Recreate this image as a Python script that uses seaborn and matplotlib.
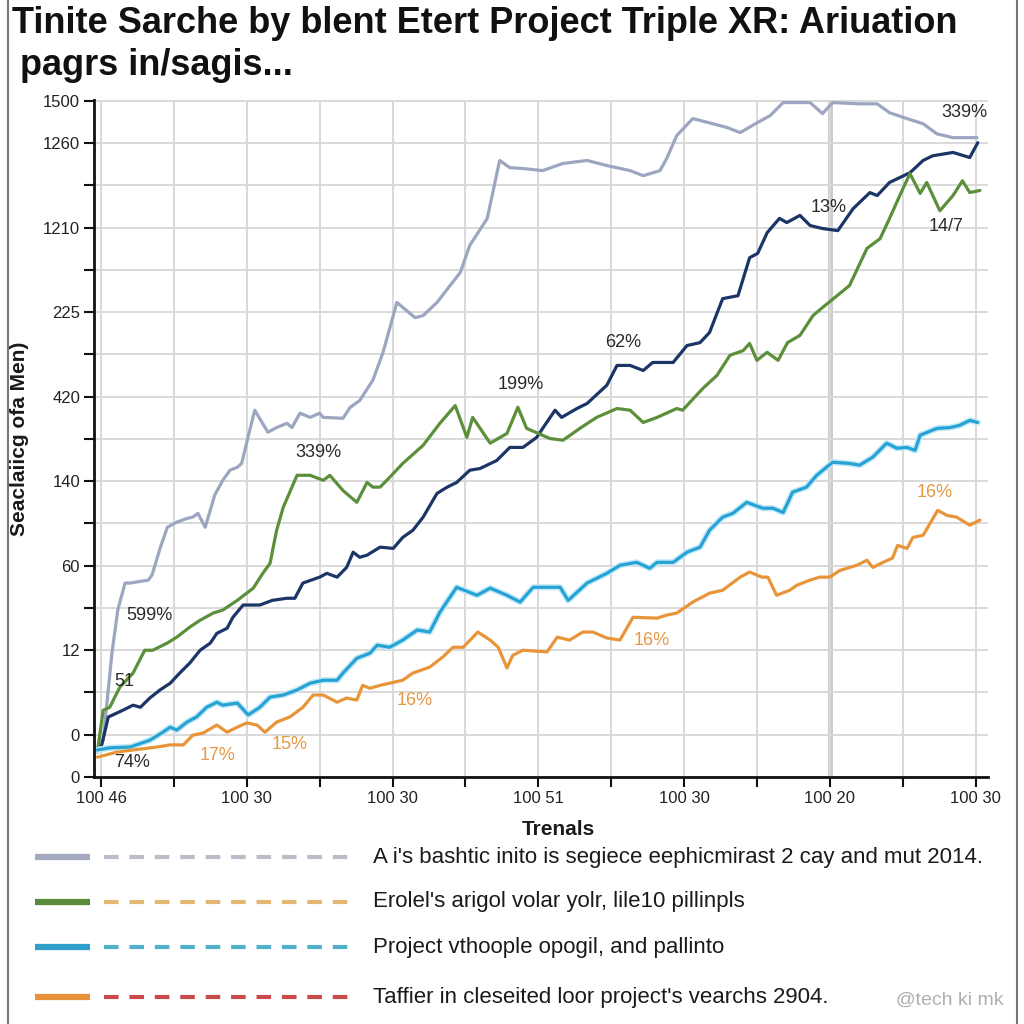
import numpy as np
import pandas as pd
import seaborn as sns
import matplotlib.pyplot as plt
import matplotlib as mpl
from matplotlib.lines import Line2D
import matplotlib.patheffects as pe

# >>>>> 1. Data (x = trial index, y = axis level)
series_names = ["gray", "navy", "green", "cyan", "orange"]

gray_x = [-0.05, 0.03, 0.15, 0.23, 0.33, 0.40, 0.65, 0.70, 0.81, 0.91, 1.04, 1.18, 1.26, 1.33, 1.43, 1.56,
          1.67, 1.77, 1.87, 1.93, 2.00, 2.11, 2.29, 2.41, 2.55, 2.62, 2.73, 2.87, 3.00, 3.05, 3.32, 3.42,
          3.55, 3.73, 3.87, 4.06, 4.31, 4.42, 4.61, 4.79, 4.93, 5.06, 5.30, 5.47, 5.61, 5.79, 6.06, 6.34,
          6.67, 6.94, 7.26, 7.44, 7.67, 7.76, 7.90, 8.12, 8.35, 8.59, 8.77, 9.00, 9.18, 9.36, 9.73, 9.90,
          10.04, 10.41, 10.65, 10.82, 11.06, 11.28, 11.47, 11.69, 12.02]
gray_y = [0.69, 0.87, 2.93, 3.95, 4.59, 4.59, 4.66, 4.78, 5.41, 5.91, 6.03, 6.12, 6.15, 6.24, 5.91, 6.67,
          7.02, 7.26, 7.33, 7.42, 7.92, 8.68, 8.16, 8.27, 8.37, 8.27, 8.61, 8.51, 8.61, 8.51, 8.49, 8.75,
          8.91, 9.39, 10.05, 11.23, 10.87, 10.92, 11.23, 11.63, 11.94, 12.58, 13.22, 14.59, 14.42, 14.40, 14.35, 14.52,
          14.59, 14.47, 14.35, 14.23, 14.35, 14.63, 15.18, 15.58, 15.48, 15.37, 15.25, 15.48, 15.65, 15.96, 15.96, 15.70,
          15.96, 15.93, 15.93, 15.72, 15.58, 15.46, 15.22, 15.13, 15.13]

navy_x = [-0.05, 0.01, 0.10, 0.30, 0.44, 0.54, 0.67, 0.81, 0.95, 1.08, 1.22, 1.36, 1.50, 1.59, 1.73, 1.81,
          1.95, 2.18, 2.35, 2.55, 2.66, 2.77, 3.00, 3.10, 3.24, 3.37, 3.46, 3.55, 3.65, 3.83, 4.01, 4.14,
          4.28, 4.42, 4.61, 4.75, 4.88, 5.06, 5.20, 5.43, 5.61, 5.79, 5.98, 6.06, 6.23, 6.32, 6.53, 6.67,
          6.94, 7.08, 7.26, 7.44, 7.57, 7.85, 8.04, 8.22, 8.35, 8.53, 8.74, 8.90, 9.01, 9.14, 9.31, 9.41,
          9.59, 9.73, 9.90, 10.11, 10.32, 10.55, 10.65, 10.82, 11.10, 11.28, 11.41, 11.69, 11.92, 12.03]
navy_y = [0.64, 0.76, 1.42, 1.58, 1.70, 1.65, 1.87, 2.06, 2.22, 2.46, 2.70, 3.00, 3.17, 3.40, 3.52, 3.78,
          4.07, 4.07, 4.18, 4.23, 4.23, 4.59, 4.73, 4.82, 4.73, 4.96, 5.32, 5.20, 5.25, 5.44, 5.41, 5.67,
          5.84, 6.15, 6.71, 6.86, 6.97, 7.26, 7.30, 7.49, 7.80, 7.80, 8.04, 8.25, 8.68, 8.51, 8.72, 8.84,
          9.27, 9.74, 9.74, 9.62, 9.81, 9.81, 10.21, 10.28, 10.52, 11.32, 11.39, 12.29, 12.39, 12.88, 13.22, 13.12,
          13.29, 13.05, 12.98, 12.93, 13.45, 13.83, 13.76, 14.07, 14.30, 14.59, 14.70, 14.78, 14.66, 15.01]

green_x = [-0.05, 0.03, 0.12, 0.26, 0.44, 0.60, 0.71, 0.91, 1.04, 1.22, 1.36, 1.54, 1.67, 1.87, 2.09, 2.22,
           2.32, 2.41, 2.50, 2.69, 2.87, 3.05, 3.14, 3.32, 3.51, 3.65, 3.73, 3.83, 3.96, 4.14, 4.42, 4.65,
           4.86, 5.02, 5.10, 5.34, 5.57, 5.72, 5.84, 6.16, 6.34, 6.57, 6.80, 7.08, 7.26, 7.44, 7.63, 7.90,
           7.98, 8.26, 8.45, 8.63, 8.81, 8.90, 9.00, 9.14, 9.29, 9.42, 9.59, 9.77, 9.90, 10.10, 10.27, 10.51,
           10.69, 10.82, 10.96, 11.10, 11.24, 11.33, 11.51, 11.69, 11.82, 11.92, 12.06]
green_y = [0.59, 1.58, 1.65, 2.13, 2.46, 3.00, 3.00, 3.17, 3.31, 3.55, 3.71, 3.88, 3.95, 4.18, 4.47, 4.82,
           5.06, 5.84, 6.38, 7.14, 7.14, 7.02, 7.14, 6.78, 6.50, 6.97, 6.86, 6.86, 7.09, 7.42, 7.85, 8.37,
           8.79, 8.04, 8.51, 7.90, 8.13, 8.75, 8.25, 8.01, 7.97, 8.25, 8.51, 8.72, 8.68, 8.39, 8.51, 8.72,
           8.68, 9.20, 9.50, 9.98, 10.09, 10.26, 9.86, 10.05, 9.86, 10.28, 10.45, 10.92, 11.11, 11.39, 11.63, 12.51,
           12.74, 13.22, 13.76, 14.28, 13.81, 14.07, 13.40, 13.76, 14.11, 13.83, 13.88]

cyan_x = [-0.05, 0.12, 0.40, 0.67, 0.85, 0.95, 1.04, 1.18, 1.31, 1.45, 1.59, 1.67, 1.87, 2.02, 2.18, 2.32,
          2.50, 2.69, 2.87, 3.05, 3.24, 3.32, 3.51, 3.69, 3.79, 3.96, 4.14, 4.34, 4.51, 4.65, 4.88, 5.16,
          5.34, 5.57, 5.75, 5.93, 6.16, 6.30, 6.41, 6.67, 6.94, 7.12, 7.35, 7.53, 7.63, 7.85, 8.04, 8.22,
          8.35, 8.53, 8.67, 8.86, 9.08, 9.22, 9.36, 9.49, 9.68, 9.82, 10.04, 10.27, 10.41, 10.59, 10.78, 10.92,
          11.06, 11.17, 11.24, 11.47, 11.65, 11.78, 11.92, 12.03]
cyan_y = [0.64, 0.69, 0.71, 0.87, 1.06, 1.18, 1.11, 1.30, 1.42, 1.65, 1.77, 1.70, 1.75, 1.47, 1.65, 1.89,
          1.94, 2.06, 2.22, 2.29, 2.29, 2.46, 2.81, 2.93, 3.12, 3.07, 3.24, 3.48, 3.43, 3.90, 4.49, 4.30,
          4.47, 4.30, 4.14, 4.49, 4.49, 4.49, 4.18, 4.59, 4.82, 5.01, 5.08, 4.94, 5.08, 5.08, 5.32, 5.44,
          5.84, 6.15, 6.24, 6.50, 6.36, 6.36, 6.26, 6.74, 6.86, 7.14, 7.45, 7.42, 7.38, 7.57, 7.90, 7.78,
          7.80, 7.73, 8.09, 8.25, 8.27, 8.32, 8.44, 8.39]

orange_x = [-0.05, 0.22, 0.44, 0.77, 0.95, 1.13, 1.26, 1.40, 1.59, 1.73, 1.87, 2.00, 2.14, 2.25, 2.41, 2.59,
            2.77, 2.91, 3.05, 3.24, 3.37, 3.51, 3.59, 3.69, 3.83, 4.14, 4.28, 4.51, 4.69, 4.83, 4.97, 5.17,
            5.34, 5.45, 5.57, 5.65, 5.79, 6.12, 6.26, 6.43, 6.61, 6.75, 6.94, 7.12, 7.30, 7.63, 7.76, 7.90,
            8.12, 8.35, 8.53, 8.77, 8.90, 9.07, 9.15, 9.27, 9.45, 9.55, 9.73, 9.86, 10.00, 10.14, 10.37, 10.51,
            10.59, 10.73, 10.86, 10.93, 11.06, 11.14, 11.28, 11.48, 11.61, 11.74, 11.92, 12.06]
orange_y = [0.47, 0.59, 0.64, 0.71, 0.76, 0.76, 0.99, 1.04, 1.23, 1.06, 1.18, 1.28, 1.23, 1.06, 1.30, 1.42,
            1.65, 1.94, 1.94, 1.77, 1.87, 1.82, 2.17, 2.10, 2.17, 2.29, 2.46, 2.60, 2.84, 3.07, 3.07, 3.43,
            3.24, 3.07, 2.58, 2.88, 3.00, 2.96, 3.31, 3.24, 3.43, 3.43, 3.29, 3.24, 3.78, 3.76, 3.83, 3.88,
            4.14, 4.35, 4.42, 4.73, 4.85, 4.73, 4.73, 4.30, 4.42, 4.54, 4.66, 4.73, 4.73, 4.89, 5.01, 5.13,
            4.96, 5.08, 5.18, 5.48, 5.41, 5.67, 5.72, 6.31, 6.19, 6.15, 5.96, 6.08]

y_tick_pos = list(range(17))
y_tick_labels = ["0", "0", "", "12", "", "60", "", "140", "", "420", "", "225", "", "1210", "", "1260", "1500"]
x_tick_pos = list(range(13))
x_tick_labels = ["100 46", "", "100 30", "", "100 30", "", "100 51", "", "100 30", "", "100 20", "", "100 30"]

# (text, x, y, colour)
point_labels = [
    ("339%", 11.85, 15.72, "#2a2a2a"),
    ("13%", 9.99, 13.48, "#2a2a2a"),
    ("14/7", 11.60, 13.03, "#2a2a2a"),
    ("62%", 7.16, 10.28, "#2a2a2a"),
    ("199%", 5.76, 9.29, "#2a2a2a"),
    ("339%", 2.98, 7.68, "#2a2a2a"),
    ("599%", 0.67, 3.83, "#2a2a2a"),
    ("51", 0.32, 2.27, "#2a2a2a"),
    ("74%", 0.43, 0.35, "#2a2a2a"),
    ("17%", 1.60, 0.52, "#e39a45"),
    ("15%", 2.59, 0.76, "#e39a45"),
    ("16%", 4.31, 1.82, "#e39a45"),
    ("16%", 7.56, 3.24, "#e39a45"),
    ("16%", 11.44, 6.74, "#e39a45"),
]

legend_texts = [
    "A i's bashtic inito is segiece eephicmirast 2 cay and mut 2014.",
    "Erolel's arigol volar yolr, lile10 pillinpls",
    "Project vthoople opogil, and pallinto",
    "Taffier in cleseited loor project's vearchs 2904.",
]
# <<<<< 1. Data

colors = {"gray": "#9da6c0", "navy": "#1b3566", "green": "#5b8f3a",
          "cyan": "#26a2d4", "orange": "#e8953a"}
legend_solid = ["#a5a9bf", "#5a8a3c", "#2e9ecb", "#e8923c"]
legend_dash = ["#b9bcc9", "#e2b872", "#52b0cb", "#c94a4d"]

xs = {"gray": gray_x, "navy": navy_x, "green": green_x, "cyan": cyan_x, "orange": orange_x}
ys = {"gray": gray_y, "navy": navy_y, "green": green_y, "cyan": cyan_y, "orange": orange_y}
frames = [pd.DataFrame({"trial": xs[n], "level": ys[n], "series": n}) for n in series_names]
df = pd.concat(frames, ignore_index=True)

# >>>>> 2. Style
sns.set_theme(style="whitegrid")
plt.rcParams["font.family"] = ["Liberation Sans", "DejaVu Sans"]
plt.rcParams["grid.color"] = "#d9d9d9"
plt.rcParams["grid.linewidth"] = 1.4
# <<<<< 2. Style

fig = plt.figure(figsize=(10.24, 10.24), dpi=100)
ax = fig.add_axes([0.0918, 0.2412, 0.873, 0.6611])

ax.axvline(10, color="#cacaca", lw=3.5, zorder=0)
sns.lineplot(data=df, x="trial", y="level", hue="series", hue_order=series_names,
             palette=colors, estimator=None, sort=False, legend=False, linewidth=2.3, ax=ax)
for line, name in zip(ax.get_lines()[1:], series_names):
    if name == "cyan":
        line.set_path_effects([pe.Stroke(linewidth=4.5, foreground="#c4eaf7"), pe.Normal()])

for txt, x, y, c in point_labels:
    ax.text(x, y, txt, color=c, fontsize=13, ha="center", va="center")

ax.set_xlim(-0.096, 12.17)
ax.set_ylim(0, 16.02)
ax.set_yticks(y_tick_pos)
ax.set_yticklabels(y_tick_labels)
ax.set_xticks(x_tick_pos)
ax.set_xticklabels(x_tick_labels)
ax.tick_params(axis="both", which="major", length=7, width=1.5, color="#111111",
               labelsize=12, labelcolor="#222222", pad=3, left=True, bottom=True)
for side in ["top", "right"]:
    ax.spines[side].set_visible(False)
for side in ["left", "bottom"]:
    ax.spines[side].set_color("#111111")
    ax.spines[side].set_linewidth(2)

ax.set_xlabel("Trenals", fontsize=15, fontweight="bold", color="#1a1a1a")
ax.xaxis.set_label_coords(0.519, -0.064)
ax.set_ylabel("Seaclaiicg ofa Men)", fontsize=15, fontweight="bold", color="#1a1a1a", labelpad=10)

# title
fig.text(0.012, 1 - 33 / 1024, "Tinite Sarche by blent Etert Project Triple XR: Ariuation",
         fontsize=26, fontweight="bold", color="#111111", ha="left", va="baseline")
fig.text(0.02, 1 - 75 / 1024, "pagrs in/sagis...",
         fontsize=26, fontweight="bold", color="#111111", ha="left", va="baseline")

# legend rows
row_y = [857, 902, 947, 997]
for i, txt in enumerate(legend_texts):
    yy = 1 - row_y[i] / 1024
    fig.add_artist(Line2D([35 / 1024, 90 / 1024], [yy, yy], color=legend_solid[i], lw=4.5,
                          transform=fig.transFigure, solid_capstyle="butt"))
    fig.add_artist(Line2D([104 / 1024, 356 / 1024], [yy, yy], color=legend_dash[i], lw=3,
                          linestyle=(0, (3.5, 2.6)), transform=fig.transFigure, dash_capstyle="butt"))
    fig.text(373 / 1024, yy, txt, fontsize=16, color="#1a1a1a", ha="left", va="center")

fig.text(0.98, 1 - 1000 / 1024, "@tech ki mk", fontsize=14, color="#b0b0b0", ha="right", va="center")

# frame
fig.add_artist(Line2D([0.008, 0.008], [0, 1], color="#777777", lw=1.5, transform=fig.transFigure))
fig.add_artist(Line2D([0.993, 0.993], [0, 1], color="#777777", lw=1.5, transform=fig.transFigure))

fig.savefig("out.png", dpi=100, facecolor="white")
